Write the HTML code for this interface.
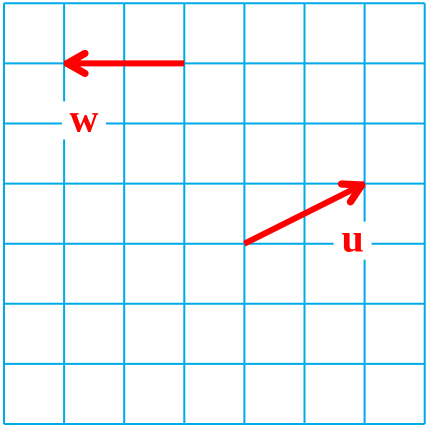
<!DOCTYPE html>
<html><head><meta charset="utf-8"><style>
html,body{margin:0;padding:0;background:#fff;width:433px;height:433px;overflow:hidden}
svg{display:block}
</style></head><body>
<svg id="c" width="433" height="433" viewBox="0 0 433 433">
<defs>
<marker id="ah" viewBox="0 0 10 10" refX="9.2" refY="5" markerWidth="4.5" markerHeight="4.5" orient="auto" markerUnits="strokeWidth">
<path d="M1.5,1.3 L8,5 L1.5,8.7" fill="none" stroke="#f00" stroke-width="2.7" stroke-linecap="round" stroke-linejoin="round"/>
</marker>
</defs>
<g id="grid"></g>
<g id="vecs"></g>
</svg>
<script>
const gridTicks = [0,1,2,3,4,5,6,7];
const vectorNames = ["w","u"];
const vectorStarts = [[3,6],[4,3]];
const vectorEnds = [[1,6],[6,4]];
const labelPos = [[1.33,5.05],[5.8,3.05]];
const NS="http://www.w3.org/2000/svg";
const X0=4, Y0=424, U=60.1;
const sx=v=>X0+v*U, sy=v=>Y0-v*U;
const g=document.getElementById('grid');
gridTicks.forEach(t=>{
  const v=document.createElementNS(NS,'line');
  
  
  v.setAttribute('x1',sx(t));v.setAttribute('x2',sx(t));v.setAttribute('y1',sy(0));v.setAttribute('y2',sy(7));
  v.setAttribute('stroke','#00a9e8');v.setAttribute('stroke-width','2');
  g.appendChild(v);
  const h=document.createElementNS(NS,'line');
  
  
  h.setAttribute('y1',sy(t));h.setAttribute('y2',sy(t));h.setAttribute('x1',sx(0));h.setAttribute('x2',sx(7));
  h.setAttribute('stroke','#00a9e8');h.setAttribute('stroke-width','2');
  g.appendChild(h);
});
const vg=document.getElementById('vecs');
vectorNames.forEach((n,i)=>{
  const l=document.createElementNS(NS,'line');
  
  
  l.setAttribute('x1',sx(vectorStarts[i][0]));l.setAttribute('y1',sy(vectorStarts[i][1]));
  l.setAttribute('x2',sx(vectorEnds[i][0]));l.setAttribute('y2',sy(vectorEnds[i][1]));
  l.setAttribute('stroke','#f00');l.setAttribute('stroke-width','6');
  l.setAttribute('marker-end','url(#ah)');
  vg.appendChild(l);
  const cx=sx(labelPos[i][0]), cy=sy(labelPos[i][1]);
  const r=document.createElementNS(NS,'rect');
  
  
  const w=n==='w'?44:38;
  r.setAttribute('x',cx-w/2);r.setAttribute('y',cy-19);r.setAttribute('width',w);r.setAttribute('height',38);
  r.setAttribute('fill','#fff');
  vg.appendChild(r);
  const t=document.createElementNS(NS,'text');
  
  
  t.setAttribute('x',cx);t.setAttribute('y',cy+11);
  t.setAttribute('text-anchor','middle');
  t.setAttribute('font-family','"Liberation Serif", serif');
  t.setAttribute('font-weight','bold');t.setAttribute('font-size','40');
  t.setAttribute('fill','#f00');
  t.textContent=n;
  vg.appendChild(t);
});
</script>
</body></html>
